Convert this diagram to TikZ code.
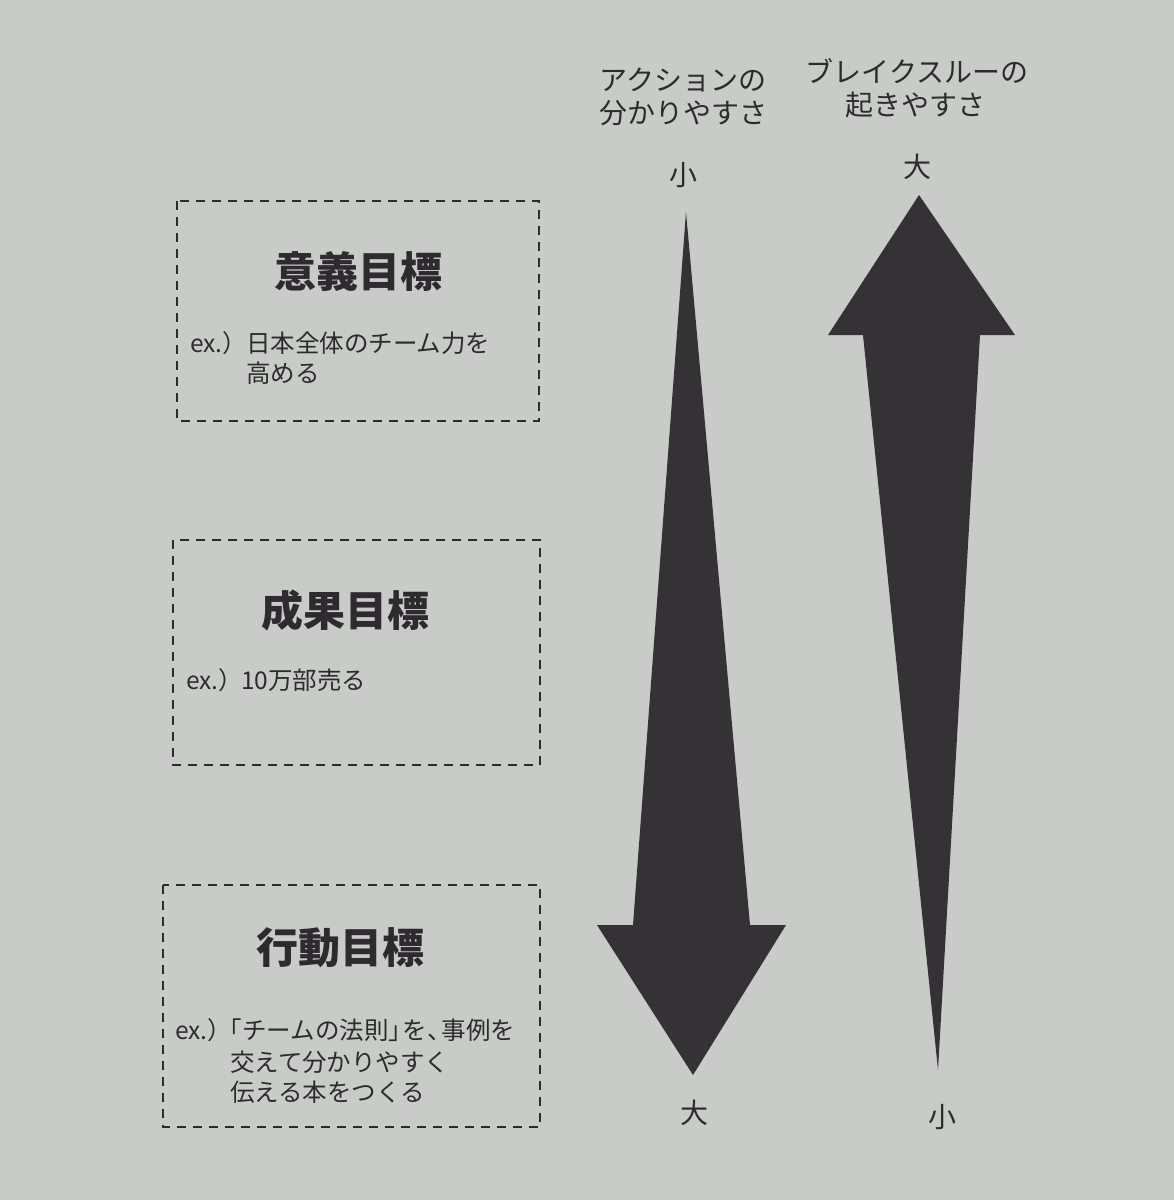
\documentclass[tikz,border=0pt]{standalone}
\usepackage{fontspec}
\setmainfont{Noto Sans CJK JP}
\definecolor{paper}{RGB}{200,203,200}
\definecolor{ink}{RGB}{45,43,45}
\definecolor{arrowfill}{RGB}{52,50,52}
\newcommand{\kl}{\hspace{-0.42em}}
\tikzset{
  txt/.style={inner sep=0pt, text=ink},
  label/.style={txt, font=\fontsize{28}{33}\selectfont, text height=24.6pt, text depth=3.4pt},
  body/.style={txt, font=\fontsize{24.5}{30}\selectfont, anchor=west, text height=21.5pt, text depth=3pt},
  title/.style={txt, font=\fontsize{42}{48}\selectfont\bfseries, text height=37pt, text depth=5pt},
  dbox/.style={draw=ink, line width=1.2pt, dash pattern=on 9pt off 7pt},
  bigarrow/.style={fill=arrowfill, draw=none}
}
\begin{document}
\begin{tikzpicture}[x=1pt,y=-1pt]
\fill[paper] (0,0) rectangle (1174,1200);
\useasboundingbox (0,0) rectangle (1174,1200);

% column headers
\node[label] (h1a) at (683,80) {アクションの};
\node[label] (h1b) at (683,113) {分かりやすさ};
\node[label] (h2a) at (917,72) {ブレイクスルーの};
\node[label] (h2b) at (915,105) {起きやすさ};

\node[label] (s1) at (683,175) {小};
\node[label] (b2) at (917,167) {大};
\node[label] (b1) at (694,1113) {大};
\node[label] (s2) at (942,1117) {小};

% arrows
\fill[bigarrow] (686,212) -- (750,925) -- (786,925) -- (693,1075) -- (597,925) -- (633,925) -- cycle;
\fill[bigarrow] (919,195) -- (1015,335) -- (980,335) -- (938,1070) -- (863,335) -- (828,335) -- cycle;

% box 1
\draw[dbox] (177,201) rectangle (539,421);
\node[title] (t1) at (358,271) {意義目標};
\node[body] (e1) at (190,343) {ex.）};
\node[body] (l1a) at (246,343) {日本全体のチーム力を};
\node[body] (l1b) at (246,373) {高める};

% box 2
\draw[dbox] (173,540) rectangle (540,765);
\node[title] (t2) at (345,610) {成果目標};
\node[body] (e2) at (186,680) {ex.）};
\node[body] (l2a) at (241,680) {10万部売る};

% box 3
\draw[dbox] (163,885) rectangle (540,1127);
\node[title] (t3) at (340,947) {行動目標};
\node[body] (e3) at (175,1030) {ex.）};
\node[body] (l3a) at (228,1030) {\kl「チームの法則」\kl を、\kl 事例を};
\node[body] (l3b) at (230,1062) {交えて分かりやすく};
\node[body] (l3c) at (230,1092) {伝える本をつくる};
\end{tikzpicture}
\end{document}
